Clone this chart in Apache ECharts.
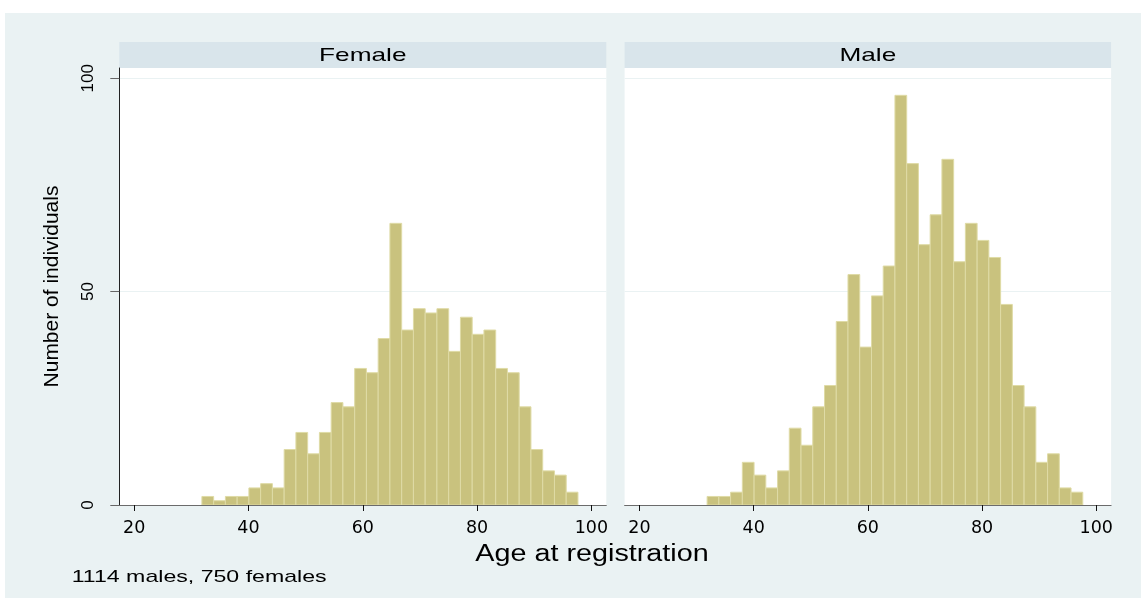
<!DOCTYPE html>
<html><head><meta charset="utf-8">
<script src="https://cdn.jsdelivr.net/npm/echarts@6/dist/echarts.min.js"></script>
<style>html,body{margin:0;padding:0;background:#fff}#c{width:1145px;height:601px}</style>
</head><body><div id="c"></div>
<script>
// Histogram definition (age bins)
const binStart = 31.85;
const binWidth = 2.056;
// Counts per bin
const femaleCounts = [2,1,2,2,4,5,4,13,17,12,17,24,23,32,31,39,66,41,46,45,46,36,44,40,41,32,31,23,13,8,7,3];
const maleCounts   = [2,2,3,10,7,4,8,18,14,23,28,43,54,37,49,56,96,80,61,68,81,57,66,62,58,47,28,23,10,12,4,3];
const panelTitles = ['Female', 'Male'];
const xTicks = [20, 40, 60, 80, 100];
const yTicks = [0, 50, 100];
const xTitle = 'Age at registration';
const yTitle = 'Number of individuals';
const note = '1114 males, 750 females';

const X_MIN = 17.4, X_MAX = 102.6, Y_MIN = 0, Y_MAX = 102.4;
const BAR_FILL = '#C9C27E', BAR_STROKE = '#DFDBA6';

function toBins(counts) {
  return counts.map((c, i) => [binStart + i * binWidth, binStart + (i + 1) * binWidth, c]);
}

function renderBar(params, api) {
  const p0 = api.coord([api.value(0), api.value(2)]);
  const p1 = api.coord([api.value(1), 0]);
  return {
    type: 'rect',
    shape: { x: p0[0], y: p0[1], width: p1[0] - p0[0], height: p1[1] - p0[1] },
    style: { fill: BAR_FILL, stroke: BAR_STROKE, lineWidth: 1 }
  };
}

const grids = [
  { left: 119.3, top: 68, width: 487, height: 437 },
  { left: 624.6, top: 68, width: 486.5, height: 437 }
];

function xAxisCfg(i) {
  return {
    type: 'value', gridIndex: i, min: X_MIN, max: X_MAX,
    axisLine: { show: true, onZero: false, lineStyle: { color: '#6b6b6b', width: 1 } },
    axisTick: { show: true, length: 6, customValues: xTicks, lineStyle: { color: '#111', width: 1 } },
    axisLabel: { customValues: xTicks, margin: 14, fontFamily: 'DejaVu Sans', fontSize: 17.5, color: '#000' },
    splitLine: { show: false }
  };
}

function yAxisCfg(i) {
  const first = i === 0;
  return {
    type: 'value', gridIndex: i, min: Y_MIN, max: Y_MAX, interval: 50,
    axisLine: { show: first, lineStyle: { color: '#222', width: 1 } },
    axisTick: { show: first, length: 9, customValues: yTicks, lineStyle: { color: '#666', width: 1 } },
    axisLabel: { show: first, customValues: yTicks, rotate: 90, margin: 22, fontFamily: 'Liberation Sans', fontSize: 17, color: '#000' },
    splitLine: { show: true, lineStyle: { color: '#EAF2F3', width: 1 } },
    name: first ? yTitle : '',
    nameLocation: 'middle', nameGap: 57, nameRotate: 90,
    nameTextStyle: { fontFamily: 'Liberation Sans', fontSize: 21, color: '#000' }
  };
}

const graphics = [
  { type: 'rect', z: -10, silent: true, shape: { x: 5, y: 13, width: 1136, height: 585 }, style: { fill: '#EAF2F3' } }
];
grids.forEach((g, i) => {
  graphics.push({ type: 'rect', z: -5, silent: true, shape: { x: g.left, y: 42, width: g.width, height: 26 }, style: { fill: '#D9E5EB' } });
  graphics.push({ type: 'text', silent: true, x: g.left + g.width / 2, y: 55.5, scaleX: 1.38,
    style: { text: panelTitles[i], fontFamily: 'Liberation Sans', fontSize: 19, fill: '#000', align: 'center', verticalAlign: 'middle' } });
});
graphics.push({ type: 'text', silent: true, x: 592, y: 554.5, scaleX: 1.25,
  style: { text: xTitle, fontFamily: 'Liberation Sans', fontSize: 23, fill: '#000', align: 'center', verticalAlign: 'middle' } });
graphics.push({ type: 'text', silent: true, x: 71.7, y: 577, scaleX: 1.36,
  style: { text: note, fontFamily: 'Liberation Sans', fontSize: 17, fill: '#000', align: 'left', verticalAlign: 'middle' } });

const chart = echarts.init(document.getElementById('c'));
chart.setOption({
  backgroundColor: '#fff',
  animation: false,
  grid: grids.map(g => Object.assign({ show: true, backgroundColor: '#fff', borderWidth: 0, containLabel: false }, g)),
  xAxis: [xAxisCfg(0), xAxisCfg(1)],
  yAxis: [yAxisCfg(0), yAxisCfg(1)],
  series: [
    { type: 'custom', name: panelTitles[0], xAxisIndex: 0, yAxisIndex: 0, clip: true,
      renderItem: renderBar, encode: { x: [0, 1], y: 2 }, data: toBins(femaleCounts) },
    { type: 'custom', name: panelTitles[1], xAxisIndex: 1, yAxisIndex: 1, clip: true,
      renderItem: renderBar, encode: { x: [0, 1], y: 2 }, data: toBins(maleCounts) }
  ],
  graphic: graphics
});
</script></body></html>
